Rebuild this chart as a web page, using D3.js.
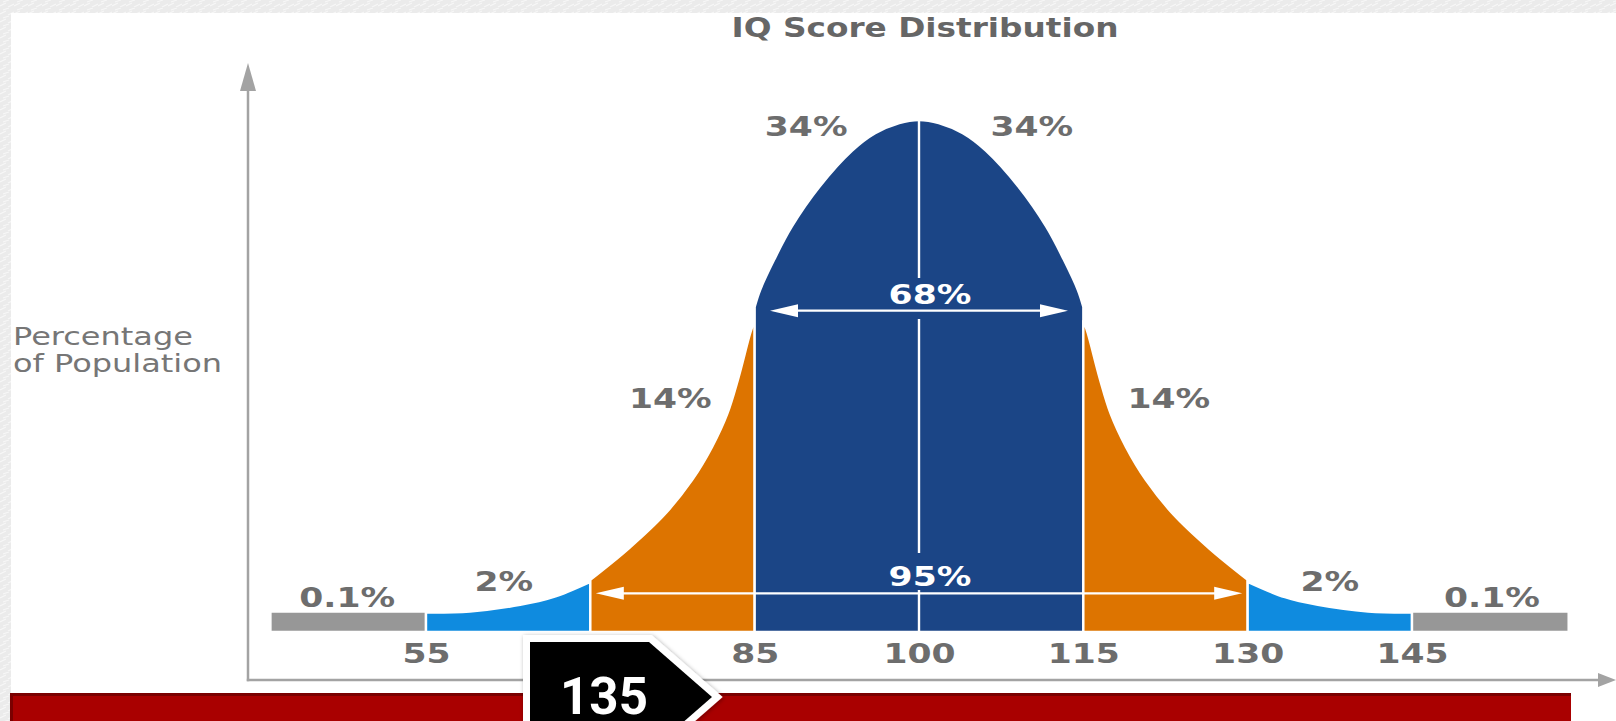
<!DOCTYPE html>
<html><head><meta charset="utf-8">
<script src="https://cdn.jsdelivr.net/npm/d3@7"></script>
<style>html,body{margin:0;padding:0;background:#fff;overflow:hidden}</style>
</head><body>
<svg id="c" width="1616" height="721"></svg>
<script>
// ---------------- data ----------------
const title = "IQ Score Distribution";
const yAxisLabel = ["Percentage", "of Population"];
const tickValues = [55, 70, 85, 100, 115, 130, 145];
const tickLabels = ["55", "70", "85", "100", "115", "130", "145"];

// bell-curve segments: IQ score and relative height (peak = 1)
const grayLeftIQ = [40.8, 55];
const grayLeftH = [0.040, 0.040];
const blueLeftIQ = [55, 59, 63.6, 66.6, 70];
const blueLeftH = [0.038, 0.040, 0.053, 0.068, 0.098];
const orangeLeftIQ = [70, 73.5, 76.8, 79.3, 81.1, 82.5, 83.5, 84.6, 85];
const orangeLeftH = [0.102, 0.163, 0.230, 0.297, 0.361, 0.426, 0.495, 0.584, 0.609];
const navyIQ = [85, 85.5, 86.8, 88.4, 90.9, 93.9, 96.0, 98.2, 100, 101.8, 104.0, 106.1, 109.1, 111.6, 113.2, 114.5, 115];
const navyH = [0.635, 0.668, 0.728, 0.792, 0.869, 0.940, 0.974, 0.994, 1.0, 0.994, 0.974, 0.940, 0.869, 0.792, 0.728, 0.668, 0.635];
const orangeRightIQ = [115, 115.4, 116.5, 117.5, 118.9, 120.7, 123.2, 126.5, 130];
const orangeRightH = [0.609, 0.584, 0.495, 0.426, 0.361, 0.297, 0.230, 0.163, 0.102];
const blueRightIQ = [130, 133.4, 136.4, 141, 145];
const blueRightH = [0.098, 0.068, 0.053, 0.040, 0.038];
const grayRightIQ = [145, 159.3];
const grayRightH = [0.040, 0.040];

const pctLabels = ["0.1%", "2%", "14%", "34%", "34%", "14%", "2%", "0.1%"];
const pctLabelIQ = [47.8, 62.1, 77.3, 89.7, 110.3, 122.8, 137.5, 152.3];
const rangeLabels = ["68%", "95%"];
const rangeFrom = [86.4, 70.5];
const rangeTo = [113.6, 129.5];
const rangeLevel = [0.6275, 0.0756];
const badgeLabel = "135";

// ---------------- layout ----------------
const svg = d3.select("#c");
const W = 1616, H = 721;
const x = d3.scaleLinear().domain([55, 145]).range([426, 1412]);
const y = d3.scaleLinear().domain([0, 1]).range([632, 120]);
const SX = 1.28;
const textGray = "#6d6d6d";
const FONT = "'DejaVu Sans', Verdana, sans-serif";

// background with light texture border
const defs = svg.append("defs");
const pat = defs.append("pattern").attr("id", "tex").attr("patternUnits", "userSpaceOnUse")
  .attr("width", 14).attr("height", 8);
pat.append("rect").attr("width", 14).attr("height", 8).attr("fill", "#ebebeb");
pat.append("path").attr("d", "M0,6 L6,3 M8,7 L14,4 M3,2 L9,0").attr("stroke", "#f7f7f7").attr("stroke-width", 1.2);
const sh = defs.append("filter").attr("id", "shadow").attr("x", "-20%").attr("y", "-20%").attr("width", "140%").attr("height", "140%");
sh.append("feDropShadow").attr("dx", 1).attr("dy", 1).attr("stdDeviation", 2).attr("flood-color", "#000").attr("flood-opacity", 0.35);

svg.append("rect").attr("width", W).attr("height", H).attr("fill", "url(#tex)");
svg.append("rect").attr("x", 11).attr("y", 13).attr("width", W - 11).attr("height", H - 13).attr("fill", "#fff");

// title
svg.append("text").text(title)
  .attr("transform", `translate(925,37) scale(1.26,1)`)
  .attr("text-anchor", "middle").attr("font-family", FONT).attr("font-weight", "bold")
  .attr("font-size", 26).attr("fill", "#666");

// y label
yAxisLabel.forEach((t, i) => {
  svg.append("text").text(t)
    .attr("transform", `translate(13,${345 + i * 26.7}) scale(${SX},1)`)
    .attr("font-family", FONT).attr("font-size", 25).attr("fill", "#767676");
});

// axes lines with arrowheads
const axisColor = "#a3a3a3";
const axisX0 = 248, axisY0 = 680;
svg.append("line").attr("x1", axisX0).attr("x2", axisX0).attr("y1", 88).attr("y2", axisY0 + 1.2)
  .attr("stroke", axisColor).attr("stroke-width", 2.5);
svg.append("path").attr("d", `M${axisX0},63 L${axisX0 - 8},91 L${axisX0 + 8},91 Z`).attr("fill", axisColor);
svg.append("line").attr("x1", axisX0 - 1.2).attr("x2", 1600).attr("y1", axisY0).attr("y2", axisY0)
  .attr("stroke", axisColor).attr("stroke-width", 2.5);
svg.append("path").attr("d", `M1616,${axisY0} L1598,${axisY0 - 7} L1598,${axisY0 + 7} Z`).attr("fill", axisColor);

// curve segments
const area = d3.area().x(d => x(d[0])).y0(y(0)).y1(d => y(d[1])).curve(d3.curveCatmullRom.alpha(0.5));
const segments = [
  { iq: grayLeftIQ, h: grayLeftH, c: "#979797" },
  { iq: blueLeftIQ, h: blueLeftH, c: "#0f8bdf" },
  { iq: orangeLeftIQ, h: orangeLeftH, c: "#dd7400" },
  { iq: navyIQ, h: navyH, c: "#1b4586" },
  { iq: orangeRightIQ, h: orangeRightH, c: "#dd7400" },
  { iq: blueRightIQ, h: blueRightH, c: "#0f8bdf" },
  { iq: grayRightIQ, h: grayRightH, c: "#979797" }
];
svg.append("g").selectAll("path").data(segments).join("path")
  .attr("d", s => area(d3.zip(s.iq, s.h)))
  .attr("fill", s => s.c)
  .attr("stroke", "#fff").attr("stroke-width", 2.4).attr("stroke-linejoin", "miter");

// centre line at mean (broken around range labels)
const cx = x(100);
const centreSegs = [[y(1), 278], [319, 553], [590, y(0)]];
svg.append("g").selectAll("line").data(centreSegs).join("line")
  .attr("x1", cx).attr("x2", cx).attr("y1", d => d[0]).attr("y2", d => d[1])
  .attr("stroke", "#fff").attr("stroke-width", 2.4);

// range arrows
rangeLabels.forEach((lab, i) => {
  const yy = y(rangeLevel[i]);
  const a = x(rangeFrom[i]), b = x(rangeTo[i]);
  const hl = 28, hw = 6.5;
  const g = svg.append("g");
  g.append("line").attr("x1", a + 10).attr("x2", b - 10).attr("y1", yy).attr("y2", yy)
    .attr("stroke", "#fff").attr("stroke-width", 2.2);
  g.append("path").attr("d", `M${a},${yy} L${a + hl},${yy - hw} L${a + hl},${yy + hw} Z`).attr("fill", "#fff");
  g.append("path").attr("d", `M${b},${yy} L${b - hl},${yy - hw} L${b - hl},${yy + hw} Z`).attr("fill", "#fff");
  g.append("text").text(lab)
    .attr("transform", `translate(${x(101)},${yy - 7}) scale(${SX},1)`)
    .attr("text-anchor", "middle").attr("font-family", FONT).attr("font-weight", "bold")
    .attr("font-size", 27).attr("fill", "#fff");
});

// percentage labels
const pctBase = [607, 591, 408, 136, 136, 408, 591, 607];
svg.append("g").selectAll("text").data(pctLabels).join("text")
  .text(d => d)
  .attr("transform", (d, i) => `translate(${x(pctLabelIQ[i])},${pctBase[i]}) scale(${SX},1)`)
  .attr("text-anchor", "middle").attr("font-family", FONT).attr("font-weight", "bold")
  .attr("font-size", 27).attr("fill", textGray);

// x axis tick labels
const xAxis = d3.axisBottom(x).tickValues(tickValues).tickFormat((d, i) => tickLabels[i]).tickSize(0);
const gx = svg.append("g").attr("transform", `translate(0,${y(0)})`).call(xAxis);
gx.select(".domain").remove();
gx.selectAll("text")
  .attr("y", 0).attr("dy", 0)
  .attr("transform", `translate(0,31) scale(${SX},1)`)
  .attr("font-family", FONT).attr("font-weight", "bold").attr("font-size", 27).attr("fill", textGray);

// red banner
svg.append("rect").attr("x", 10).attr("y", 693).attr("width", 1561).attr("height", 40).attr("fill", "#7a0000");
svg.append("rect").attr("x", 13).attr("y", 696).attr("width", 1558).attr("height", 40).attr("fill", "#a90000");

// "135" badge
const badge = "M530,642 L649,642 L712,697 L649,752 L530,752 Z";
svg.append("path").attr("d", badge).attr("fill", "#fff").attr("stroke", "#fff")
  .attr("stroke-width", 14).attr("stroke-linejoin", "miter").attr("filter", "url(#shadow)");
svg.append("path").attr("d", badge).attr("fill", "#000");
svg.append("text").text(badgeLabel)
  .attr("x", 604).attr("y", 714).attr("text-anchor", "middle")
  .attr("font-family", "Roboto, 'Liberation Sans', sans-serif").attr("font-weight", "bold")
  .attr("font-size", 51).attr("fill", "#fff");
</script>
</body></html>
